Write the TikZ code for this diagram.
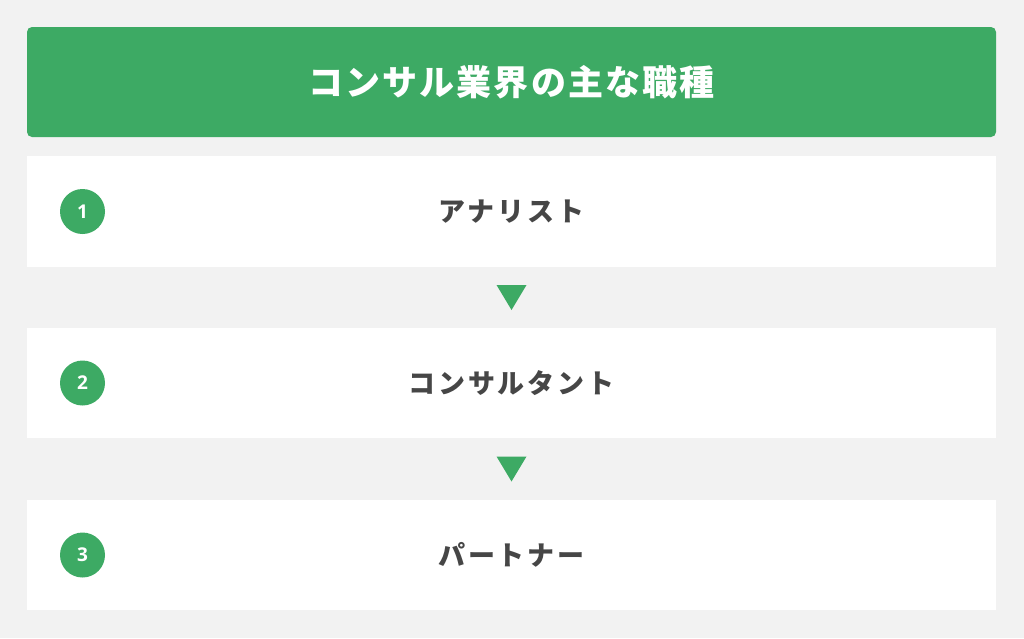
\documentclass[tikz,border=0pt]{standalone}
\usepackage{fontspec}
\usepackage{tikz}
\usetikzlibrary{calc}
\newfontfamily\jpfont{Noto Sans CJK JP}[LetterSpace=11]
\newfontfamily\jptitle{Noto Sans CJK JP}[LetterSpace=6]
\newfontfamily\numfont{Open Sans}
\definecolor{brand}{HTML}{3DAA64}
\definecolor{paper}{HTML}{F2F2F2}
\definecolor{ink}{HTML}{464646}

\begin{document}
\begin{tikzpicture}[x=1pt, y=-1pt,
    header/.style={fill=brand, rounded corners=5pt, minimum width=969pt, minimum height=110pt,
        text=white, font=\jptitle\bfseries\fontsize{35}{38}\selectfont},
    rowbox/.style={fill=white, minimum width=969pt, minimum height=110pt,
        text=ink, font=\jpfont\bfseries\fontsize{27}{30}\selectfont},
    badge/.style={circle, fill=brand, minimum size=45pt, inner sep=0pt,
        text=white, font=\numfont\bfseries\fontsize{19}{22}\selectfont}]
        % Background
        \useasboundingbox[fill=paper] (0,0) rectangle (1024,638);

        % Title
        \node[header] (title) at (511.5,82) {コンサル業界の主な職種};

        % Career steps
        \node[rowbox, minimum height=111pt] (r1) at (511.5,211.5) {アナリスト};
        \node[rowbox] (r2) at (511.5,383) {コンサルタント};
        \node[rowbox] (r3) at (511.5,555) {パートナー};

        % Numbers
        \node[badge] (n1) at (82.5,211.5) {1};
        \node[badge] (n2) at (82.5,383) {2};
        \node[badge] (n3) at (82.5,555) {3};

        % Down markers
        \coordinate (t1) at ($(r1.south)!0.5!(r2.north)$);
        \coordinate (t2) at ($(r2.south)!0.5!(r3.north)$);
        \fill[brand] ([xshift=-15pt,yshift=12.5pt]t1) -- ([xshift=15pt,yshift=12.5pt]t1) -- ([yshift=-12.5pt]t1) -- cycle;
        \fill[brand] ([xshift=-15pt,yshift=12.5pt]t2) -- ([xshift=15pt,yshift=12.5pt]t2) -- ([yshift=-12.5pt]t2) -- cycle;

    \end{tikzpicture}
\end{document}
